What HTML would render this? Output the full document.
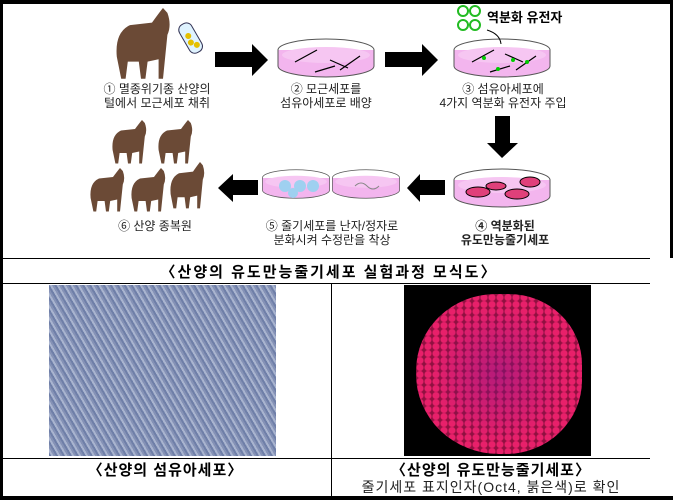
<!DOCTYPE html>
<html><head><meta charset="utf-8"><style>
body{margin:0;width:673px;height:500px;background:#fff;position:relative;overflow:hidden;font-family:"Liberation Sans","Noto Sans CJK KR",sans-serif;}
.a{position:absolute}
.t{position:absolute;font-size:12px;color:#222;text-align:center;line-height:14px;white-space:nowrap}
.c{position:absolute;font-size:15px;font-weight:bold;text-align:center;letter-spacing:2px;white-space:nowrap}
</style></head><body>
<div class="a" style="left:0;top:0;width:673px;height:4px;background:#000"></div>
<div class="a" style="left:0;top:0;width:3px;height:500px;background:#000"></div>
<div class="a" style="left:670px;top:0;width:3px;height:258px;background:#000"></div>
<div class="a" style="left:0;top:258px;width:650px;height:1px;background:#000"></div>
<div class="a" style="left:0;top:283px;width:650px;height:1px;background:#000"></div>
<div class="a" style="left:331px;top:283px;width:1px;height:215px;background:#000"></div>
<div class="a" style="left:0;top:458px;width:650px;height:1px;background:#000"></div>
<div class="a" style="left:0;top:496px;width:673px;height:4px;background:#000"></div>

<svg class="a" style="left:0;top:0" width="673" height="258">
<defs>
<g id="goat"><path d="M8 40 Q6 20 20 14 L40 12 Q48 2 50 0 L54 4 Q58 14 54 22 L52 40 L50 58 L46 58 L46 42 L36 44 L34 58 L30 58 L28 44 L18 44 L16 58 L12 58 Z" fill="#6b4a36"/></g>
<g id="dish"><ellipse cx="0" cy="0" rx="48" ry="11" fill="#fff" stroke="#555"/><path d="M-48 0 L-48 16 A48 11 0 0 0 48 16 L48 0" fill="#f3b5ee" stroke="#555"/><ellipse cx="0" cy="5" rx="44" ry="8" fill="#f6c6f2"/></g>
</defs>
<g transform="translate(108,8) scale(1.1,1.22)"><use href="#goat"/></g>
<g transform="rotate(-30 190 35)"><rect x="182" y="22" width="14" height="32" rx="6" fill="#dff3ff" stroke="#335"/><circle cx="187" cy="42" r="3" fill="#e5c000"/><circle cx="191" cy="47" r="3" fill="#e5c000"/><circle cx="188" cy="35" r="3" fill="#e5c000"/></g>
<polygon points="215,52 252,52 252,44 268,60 252,76 252,67 215,67" fill="#000"/>
<polygon points="385,52 422,52 422,44 438,60 422,76 422,67 385,67" fill="#000"/>
<use href="#dish" x="326" y="50"/>
<use href="#dish" x="502" y="50"/>
<g stroke="#000" fill="none" stroke-width="1.2"><path d="M295 62 l22 -12 M330 60 l18 8 M315 72 l20 -6 M340 70 l20 -14"/><path d="M472 62 l22 -12 M505 54 l18 8 M490 72 l20 -6 M516 70 l20 -14"/></g>
<g fill="#0c0"><circle cx="484" cy="58" r="2"/><circle cx="513" cy="60" r="2"/><circle cx="498" cy="69" r="2"/><circle cx="527" cy="62" r="2"/></g>
<g fill="#fff" stroke="#2b2" stroke-width="2"><circle cx="463" cy="11" r="5"/><circle cx="475" cy="11" r="5"/><circle cx="463" cy="25" r="5"/><circle cx="475" cy="25" r="5"/></g>
<path d="M487 30 Q500 34 501 44" stroke="#000" fill="none"/>
<text x="487" y="22" font-size="13" font-weight="bold" font-family="Liberation Sans,Noto Sans CJK KR,sans-serif">역분화 유전자</text>
<polygon points="495,116 510,116 510,143 518,143 502,158 487,143 495,143" fill="#000"/>
<use href="#dish" x="502" y="180"/>
<g fill="#e0407a" stroke="#000"><ellipse cx="478" cy="192" rx="12" ry="5"/><ellipse cx="496" cy="186" rx="10" ry="4"/><ellipse cx="517" cy="194" rx="12" ry="5"/><ellipse cx="530" cy="182" rx="10" ry="5"/></g>
<polygon points="445,180 420,180 420,174 407,188 420,202 420,195 445,195" fill="#000"/>
<g transform="translate(366,178) scale(0.7,0.75)"><use href="#dish"/></g>
<g transform="translate(296,178) scale(0.7,0.75)"><use href="#dish"/></g>
<g fill="#9fd0f0"><circle cx="285" cy="186" r="6"/><circle cx="300" cy="186" r="6"/><circle cx="313" cy="186" r="6"/><circle cx="293" cy="193" r="5"/></g>
<path d="M355 186 q6 -6 12 0 t12 0" stroke="#888" fill="none"/>
<polygon points="258,180 233,180 233,174 218,188 233,202 233,195 258,195" fill="#000"/>
<g transform="translate(107,120) scale(0.7,0.75)"><use href="#goat"/></g>
<g transform="translate(153,120) scale(0.7,0.75)"><use href="#goat"/></g>
<g transform="translate(85,168) scale(0.7,0.75)"><use href="#goat"/></g>
<g transform="translate(126,168) scale(0.7,0.75)"><use href="#goat"/></g>
<g transform="translate(165,162) scale(0.7,0.8)"><use href="#goat"/></g>
</svg>

<div class="t" style="left:87px;top:82px;width:140px">① 멸종위기종 산양의<br>털에서 모근세포 채취</div>
<div class="t" style="left:256px;top:82px;width:140px">② 모근세포를<br>섬유아세포로 배양</div>
<div class="t" style="left:423px;top:82px;width:160px">③ 섬유아세포에<br>4가지 역분화 유전자 주입</div>
<div class="t" style="left:90px;top:219px;width:130px">⑥ 산양 종복원</div>
<div class="t" style="left:252px;top:219px;width:160px">⑤ 줄기세포를 난자/정자로<br>분화시켜 수정란을 착상</div>
<div class="t" style="left:430px;top:219px;width:150px;font-weight:bold">④ 역분화된<br>유도만능줄기세포</div>
<div class="c" style="left:0;top:261px;width:658px">〈산양의 유도만능줄기세포 실험과정 모식도〉</div>

<div class="a" style="left:49px;top:285px;width:227px;height:171px;background:repeating-linear-gradient(60deg,#6f7fa8 0 2px,#a9b4cf 2px 4px,#8592b6 4px 6px)"></div>
<div class="a" style="left:404px;top:285px;width:187px;height:171px;background:#000"></div>
<div class="a" style="left:416px;top:294px;width:166px;height:160px;border-radius:48% 44% 46% 50%;background:radial-gradient(circle,#e8206a 0 3px,#901040 4px) 0 0/8px 7px"></div>
<div class="a" style="left:416px;top:294px;width:166px;height:160px;border-radius:48% 44% 46% 50%;background:radial-gradient(circle,rgba(120,20,140,.45) 0,rgba(0,0,0,0) 60%)"></div>

<div class="c" style="left:0;top:459px;width:331px;letter-spacing:1px">〈산양의 섬유아세포〉</div>
<div class="c" style="left:332px;top:459px;width:318px;letter-spacing:1px">〈산양의 유도만능줄기세포〉</div>
<div class="t" style="left:332px;top:480px;width:318px;font-size:14px;letter-spacing:1px">줄기세포 표지인자(Oct4, 붉은색)로 확인</div>
</body></html>
